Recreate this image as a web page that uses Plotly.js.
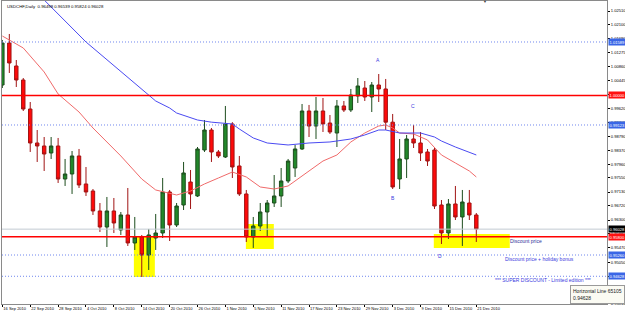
<!DOCTYPE html>
<html>
<head>
<meta charset="utf-8">
<script src="https://cdn.plot.ly/plotly-3.0.1.min.js"></script>
<style>html,body{margin:0;padding:0;background:#fff;}#chart{width:625px;height:313px;}</style>
</head>
<body>
<div id="chart"></div>
<script>
const dates = [
'16 Sep 2010','17 Sep 2010','20 Sep 2010','21 Sep 2010','22 Sep 2010','23 Sep 2010','24 Sep 2010','27 Sep 2010','28 Sep 2010','29 Sep 2010','30 Sep 2010',
'1 Oct 2010','4 Oct 2010','5 Oct 2010','6 Oct 2010','7 Oct 2010','8 Oct 2010','11 Oct 2010','12 Oct 2010','13 Oct 2010','14 Oct 2010','15 Oct 2010','18 Oct 2010','19 Oct 2010','20 Oct 2010','21 Oct 2010','22 Oct 2010','25 Oct 2010','26 Oct 2010','27 Oct 2010','28 Oct 2010','29 Oct 2010',
'1 Nov 2010','2 Nov 2010','3 Nov 2010','4 Nov 2010','5 Nov 2010','8 Nov 2010','9 Nov 2010','10 Nov 2010','11 Nov 2010','12 Nov 2010','15 Nov 2010','16 Nov 2010','17 Nov 2010','18 Nov 2010','19 Nov 2010','22 Nov 2010','23 Nov 2010','24 Nov 2010','25 Nov 2010','26 Nov 2010','29 Nov 2010','30 Nov 2010',
'1 Dec 2010','2 Dec 2010','3 Dec 2010','6 Dec 2010','7 Dec 2010','8 Dec 2010','9 Dec 2010','10 Dec 2010','13 Dec 2010','14 Dec 2010','15 Dec 2010','16 Dec 2010','17 Dec 2010','20 Dec 2010','21 Dec 2010'];

const open = [1.00311,1.01559,1.00876,1.00460,0.99598,0.98588,0.98499,0.98291,0.98499,0.97518,
0.97667,0.98202,0.97370,0.97162,0.96568,0.96092,0.96568,0.96003,0.96449,0.95617,
0.95795,0.95260,0.95765,0.95914,0.97132,0.96152,0.96746,0.97429,0.97014,0.98380,
0.98974,0.98321,0.98172,0.99153,0.97905,0.97073,0.95795,0.96122,0.96538,0.96805,
0.97014,0.97459,0.97845,0.98410,0.99539,0.99093,0.99539,0.99182,0.98885,0.99688,
0.99569,0.99985,1.00222,0.99955,1.00311,1.00193,0.99207,0.97518,0.98113,0.98707,
0.98588,0.98321,0.98380,0.96746,0.95914,0.96776,0.96390,0.96805,0.96449];
const high = [1.01649,1.01827,1.01054,1.00519,0.99806,0.98974,0.98766,0.98766,0.98737,0.98113,
0.98350,0.98410,0.97875,0.97221,0.96805,0.96984,0.96954,0.96538,0.97251,0.96390,
0.95855,0.96033,0.96479,0.97548,0.97192,0.96805,0.98024,0.97786,0.98469,0.99271,
0.99034,0.98380,0.99688,0.99207,0.98202,0.97192,0.96390,0.96805,0.96894,0.97637,
0.97845,0.98113,0.98529,0.99747,0.99718,0.99955,0.99925,0.99420,0.99866,0.99836,
1.00193,1.00519,1.00430,1.00400,1.00638,1.00490,0.99450,0.98707,0.98826,0.99123,
0.98915,0.98410,0.98439,0.96894,0.96924,0.97311,0.97192,0.97192,0.96508];
const low = [1.00222,1.00668,1.00252,0.99539,0.98321,0.98024,0.97756,0.98113,0.97400,0.97311,
0.97073,0.97251,0.97014,0.96449,0.95944,0.95498,0.95914,0.95855,0.95528,0.95409,
0.94607,0.94815,0.95409,0.95765,0.95676,0.96092,0.96597,0.96627,0.96984,0.98321,
0.98024,0.98142,0.98142,0.97548,0.97014,0.95647,0.95469,0.95974,0.95825,0.96687,
0.96687,0.97400,0.97578,0.98380,0.98766,0.98707,0.98915,0.98856,0.98469,0.99509,
0.99509,0.99777,0.99836,0.99509,0.99806,0.98974,0.97221,0.97221,0.97548,0.98439,
0.98053,0.97905,0.96627,0.95587,0.95736,0.96300,0.95528,0.96300,0.95647];
const close = [1.01559,1.00965,1.00460,0.99598,0.98588,0.98499,0.98261,0.98499,0.97518,0.97667,
0.98202,0.97340,0.97132,0.96568,0.96092,0.96568,0.96211,0.96449,0.95617,0.95795,
0.95260,0.95855,0.95914,0.97132,0.96152,0.96716,0.97697,0.97073,0.98410,0.98974,
0.98321,0.98202,0.99153,0.97875,0.97073,0.95795,0.96122,0.96538,0.96805,0.97014,
0.97459,0.98053,0.98410,0.99539,0.99093,0.99539,0.99153,0.98915,0.99688,0.99569,
1.00014,1.00282,0.99955,1.00311,1.00193,0.99207,0.97281,0.98113,0.98707,0.98588,
0.98291,0.98053,0.96716,0.95914,0.96776,0.96390,0.96835,0.96449,0.96033];

// moving averages read at selected bars (bar index, value)
const maFastBar = [0,3,6,8,11,13,17,20,22,25,27,29,31,33,35,37,39,41,44,46,48,50,52,54,55,56,57,59,61,62,63,65,67,68];
const maFastVal = [1.01767,1.01411,1.00698,1.00044,0.99509,0.99034,0.98202,0.97518,0.97192,0.97043,0.97162,0.97370,0.97548,0.97726,0.97578,0.97281,0.97221,0.97311,0.97756,0.98053,0.98232,0.98618,0.98885,0.99093,0.99123,0.99034,0.98885,0.98856,0.98677,0.98469,0.98232,0.97994,0.97756,0.97578];
const maSlowBar = [6,12,22,24,25,27,28,30,33,34,36,38,41,44,47,50,52,54,55,57,60,62,63,65,68];
const maSlowVal = [1.02837,1.01589,0.99836,0.99628,0.99479,0.99331,0.99271,0.99207,0.99153,0.99004,0.98737,0.98588,0.98529,0.98588,0.98618,0.98707,0.98826,0.98974,0.98974,0.98885,0.98885,0.98766,0.98647,0.98469,0.98232];

const yTickVals = [1.02510,1.02100,1.01690,1.01275,1.00860,1.00445,1.00030,0.99620,0.99205,0.98790,0.98370,0.97960,0.97550,0.97130,0.96720,0.96300,0.95885,0.95470,0.95050,0.94630,0.94220,0.93810];

const levelValues = [1.01589,1.00000,0.99123,0.96028,0.95800,0.95260,0.94628];
const levelKinds  = ['blue','red','blue','bid','red','blue','blue'];

// highlighted zones: [barFrom, barTo, priceLow, priceHigh]
const zones = [[18.87,21.88,0.94607,0.95795],[34.94,38.95,0.95438,0.96181],[61.9,72.8,0.95468,0.95884]];

const waveLabels = ['A','B','C','D'];
const waveBars   = [53.9,56.0,58.9,62.8];
const wavePrices = [1.01054,0.96954,0.99688,0.95230];

const noteTexts  = ['Discount price','Discount price + holiday bonus','*** SUPER DISCOUNT - Limited edition ***'];
const noteBars   = [72.5,71.8,70.4];
const notePrices = [0.95676,0.95141,0.94517];

const header = 'USDCHF,Daily  0.96498 0.96539 0.95824 0.96028';

const idx = dates.map((d,i)=>i);
const FONT = 'Liberation Sans, Arial, sans-serif';

const traces = [
  {type:'candlestick', x:idx, open:open, high:high, low:low, close:close,
   increasing:{line:{color:'#1d4d1d',width:1}, fillcolor:'#22882a'},
   decreasing:{line:{color:'#a01414',width:1}, fillcolor:'#ff0a0a'},
   whiskerwidth:0, hoverinfo:'skip', showlegend:false},
  {type:'scatter', mode:'lines', x:maFastBar, y:maFastVal, line:{color:'#f06a6a',width:1}, hoverinfo:'skip', showlegend:false},
  {type:'scatter', mode:'lines', x:maSlowBar, y:maSlowVal, line:{color:'#4a4af2',width:1}, hoverinfo:'skip', showlegend:false}
];

const styles = {
  blue:{line:{color:'#6f86ee',width:1,dash:'1px,2px'}, bg:'#3a66e6'},
  red:{line:{color:'#ff0000',width:1.4}, bg:'#ff1010'},
  bid:{line:{color:'#c2cad2',width:1}, bg:'#000000'}
};

const shapes = [];
zones.forEach(z=>shapes.push({type:'rect', layer:'below', xref:'x', yref:'y', x0:z[0], x1:z[1], y0:z[2], y1:z[3], fillcolor:'#ffff00', line:{width:0}}));
levelValues.forEach((v,i)=>shapes.push({type:'line', xref:'paper', yref:'y', x0:0, x1:1, y0:v, y1:v, line:styles[levelKinds[i]].line}));

const annotations = [];
levelValues.forEach((v,i)=>annotations.push({xref:'paper', yref:'y', x:1, y:v, xanchor:'left', yanchor:'middle', xshift:1,
  text:v.toFixed(5), showarrow:false, bgcolor:styles[levelKinds[i]].bg, borderpad:0.5,
  font:{family:FONT,size:4.1,color:'#ffffff'}}));
waveLabels.forEach((t,i)=>annotations.push({xref:'x', yref:'y', x:waveBars[i], y:wavePrices[i], text:t, showarrow:false,
  font:{family:FONT,size:5,color:'#3a3ae0'}}));
noteTexts.forEach((t,i)=>annotations.push({xref:'x', yref:'y', x:noteBars[i], y:notePrices[i], text:t, showarrow:false, xanchor:'left',
  font:{family:FONT,size:5,color:i===0?'#30309a':'#3a3ae0'}}));
annotations.push({xref:'paper', yref:'paper', x:0, y:1, xshift:3, yshift:-1, xanchor:'left', yanchor:'top', text:header, showarrow:false,
  font:{family:FONT,size:4.3,color:'#000'}});
annotations.push({xref:'paper', yref:'paper', x:0.798, y:1, xanchor:'center', yanchor:'middle', text:'▼', showarrow:false,
  font:{family:FONT,size:4,color:'#404040'}});
annotations.push({xref:'paper', yref:'paper', x:0.939, y:0.033, xanchor:'left', yanchor:'middle', align:'left',
  text:'Horizontal Line 65105<br>0.94628', showarrow:false, bgcolor:'#fbfbf3', bordercolor:'#9a9a9a', borderwidth:1, borderpad:2,
  font:{family:FONT,size:5,color:'#222'}});

const tickBars = idx.filter(i=>i%4===0);
const layout = {
  width:625, height:313,
  margin:{l:2, r:18, t:1, b:9},
  paper_bgcolor:'#ffffff', plot_bgcolor:'#ffffff',
  showlegend:false,
  xaxis:{range:[-0.05,86.75], tickmode:'array', tickvals:tickBars, ticktext:tickBars.map(i=>dates[i]),
    ticks:'outside', ticklen:2, tickcolor:'#000', ticklabelposition:'outside right', tickangle:0, ticklabelstandoff:0,
    showgrid:false, zeroline:false, showline:true, mirror:true, linecolor:'#8a8a8a', linewidth:1,
    rangeslider:{visible:false}, tickfont:{family:FONT,size:4,color:'#000'}, fixedrange:true},
  yaxis:{range:[0.93804,1.02807], side:'right', tickmode:'array', tickvals:yTickVals, ticktext:yTickVals.map(v=>v.toFixed(5)),
    ticks:'outside', ticklen:2, tickcolor:'#000', showgrid:false, zeroline:false, showline:true, mirror:true,
    linecolor:'#8a8a8a', linewidth:1, tickfont:{family:FONT,size:4.1,color:'#000'}, fixedrange:true},
  shapes:shapes, annotations:annotations
};

Plotly.newPlot('chart', traces, layout, {staticPlot:true, displayModeBar:false});
</script>
</body>
</html>
